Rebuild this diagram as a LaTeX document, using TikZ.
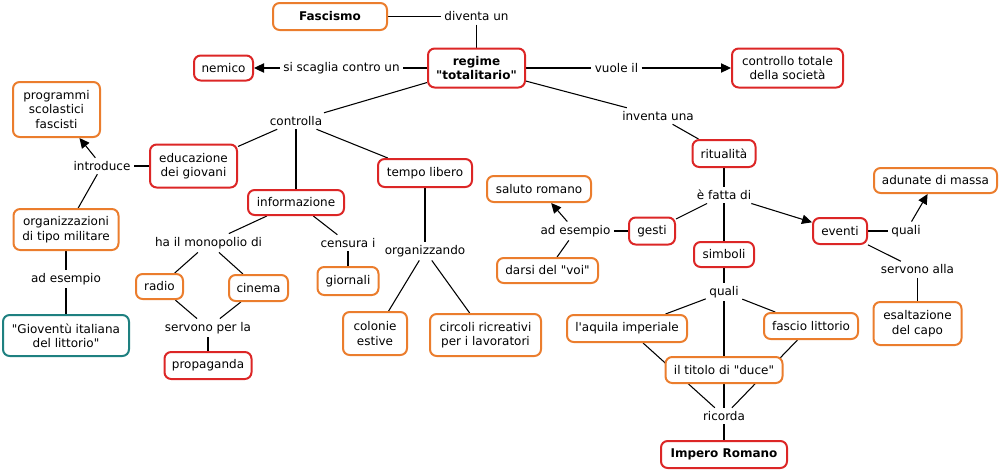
\documentclass[tikz,border=0pt]{standalone}
\usepackage{fontspec}
\setmainfont{DejaVu Sans}
\usetikzlibrary{arrows.meta,backgrounds}

\definecolor{rosso}{RGB}{220,38,38}
\definecolor{arancio}{RGB}{235,125,45}
\definecolor{verdeacqua}{RGB}{30,128,128}

\begin{document}
\begin{tikzpicture}[x=0.75pt, y=-0.75pt, >={Triangle[length=7.5pt,width=7pt]},
  every concept/.style={draw, fill=white, line width=1.5pt, rounded corners=5pt,
    align=center, inner sep=1pt, font=\fontsize{9}{10.8}\selectfont},
  concept rosso/.style={draw=rosso},
  concept arancio/.style={draw=arancio},
  concept verde/.style={draw=verdeacqua},
  every phrase/.style={inner sep=2.5pt, font=\fontsize{9}{10.8}\selectfont},
  every link/.style={line width=0.8pt}]

\useasboundingbox (0,0) rectangle (1000,472);

% Concetti (bordo rosso)
\foreach \n/\x/\y/\w/\h/\t in {
    regime/476.5/68/99/41/{\textbf{regime}\\\textbf{\textquotedbl totalitario\textquotedbl}},
    nemico/223.5/68/61/27/nemico,
    controllo/787.5/68/113/41/{controllo totale\\della società},
    educazione/193.5/166/89/45/{educazione\\dei giovani},
    informazione/296/202.5/98/27/informazione,
    tempo/425/173/96/30/tempo libero,
    propaganda/208/365.5/89/29/propaganda,
    ritualita/724/153.5/65/29/ritualità,
    gesti/652/231/48/29/gesti,
    eventi/840/231/56/28/eventi,
    simboli/724/254.5/62/27/simboli,
    impero/724/454.5/128/29/{\textbf{Impero Romano}}}
  \node [every concept/.try, concept rosso/.try,
    minimum width={(\w-2)*0.75pt}, minimum height={(\h-2)*0.75pt}] (\n) at (\x,\y) {\t};

% Concetti (bordo arancio)
\foreach \n/\x/\y/\w/\h/\t in {
    fascismo/330/16.5/116/29/{\textbf{Fascismo}},
    programmi/56.5/109.5/89/57/{programmi\\scolastici\\fascisti},
    organizzazioni/66/229.5/107/43/{organizzazioni\\di tipo militare},
    radio/159.5/286.5/49/27/radio,
    cinema/258.5/288/61/28/cinema,
    giornali/348/281/63/30/giornali,
    colonie/375/333.5/66/45/{colonie\\estive},
    circoli/485.5/335/113/44/{circoli ricreativi\\per i lavoratori},
    saluto/539/189/106/28/saluto romano,
    darsi/547.5/270.5/103/27/{darsi del \textquotedbl voi\textquotedbl},
    adunate/935.5/180.5/125/27/adunate di massa,
    esaltazione/917.5/323.5/90/45/{esaltazione\\del capo},
    aquila/627/328.5/122/29/{l\textquotesingle aquila imperiale},
    fascio/811/326/96/28/fascio littorio,
    titolo/724/370/119/28/{il titolo di \textquotedbl duce\textquotedbl}}
  \node [every concept/.try, concept arancio/.try,
    minimum width={(\w-2)*0.75pt}, minimum height={(\h-2)*0.75pt}] (\n) at (\x,\y) {\t};

\node [every concept/.try, concept verde/.try,
  minimum width=94.5pt, minimum height=30.75pt] (gioventu) at (66,335.5)
  {\textquotedbl Gioventù italiana\\del littorio\textquotedbl};

% Frasi di collegamento
\foreach \n/\x/\y/\t in {
    diventa/476.5/16.5/diventa un,
    scaglia/341.5/68/si scaglia contro un,
    vuole/616.5/68/vuole il,
    controlla/296/121/controlla,
    inventa/658/116/inventa una,
    introduce/102/166/introduce,
    esempio-org/66/279/ad esempio,
    monopolio/208.5/243/ha il monopolio di,
    censura/348/243/censura i,
    servono-per/208/328/servono per la,
    organizzando/425/251/organizzando,
    esempio-gesti/575.5/231/ad esempio,
    fatta/724/195/è fatta di,
    quali-eventi/906/231/quali,
    servono-alla/917.5/269.5/servono alla,
    quali-simboli/724/292/quali,
    ricorda/724/416/ricorda}
  \node [every phrase/.try] (\n) at (\x,\y) {\t};

% Collegamenti
\begin{scope}[on background layer]
\foreach \a/\b in {fascismo/diventa, diventa/regime, regime/scaglia, regime/vuole,
    regime/controlla, regime/inventa, inventa/ritualita,
    controlla/educazione, controlla/informazione, controlla/tempo,
    educazione/introduce, introduce/organizzazioni,
    organizzazioni/esempio-org, esempio-org/gioventu,
    informazione/monopolio, informazione/censura, monopolio/radio, monopolio/cinema,
    censura/giornali, radio/servono-per, cinema/servono-per, servono-per/propaganda,
    tempo/organizzando, organizzando/colonie, organizzando/circoli,
    ritualita/fatta, fatta/gesti, fatta/simboli, gesti/esempio-gesti, esempio-gesti/darsi,
    eventi/quali-eventi, eventi/servono-alla, servono-alla/esaltazione,
    simboli/quali-simboli, quali-simboli/aquila, quali-simboli/fascio, quali-simboli/titolo,
    aquila/ricorda, fascio/ricorda, titolo/ricorda, ricorda/impero}
  \draw [every link/.try] (\a) -- (\b);

\foreach \a/\b in {scaglia/nemico, vuole/controllo, introduce/programmi,
    esempio-gesti/saluto, fatta/eventi, quali-eventi/adunate}
  \draw [every link/.try, ->] (\a) -- (\b);
\end{scope}

\end{tikzpicture}
\end{document}
